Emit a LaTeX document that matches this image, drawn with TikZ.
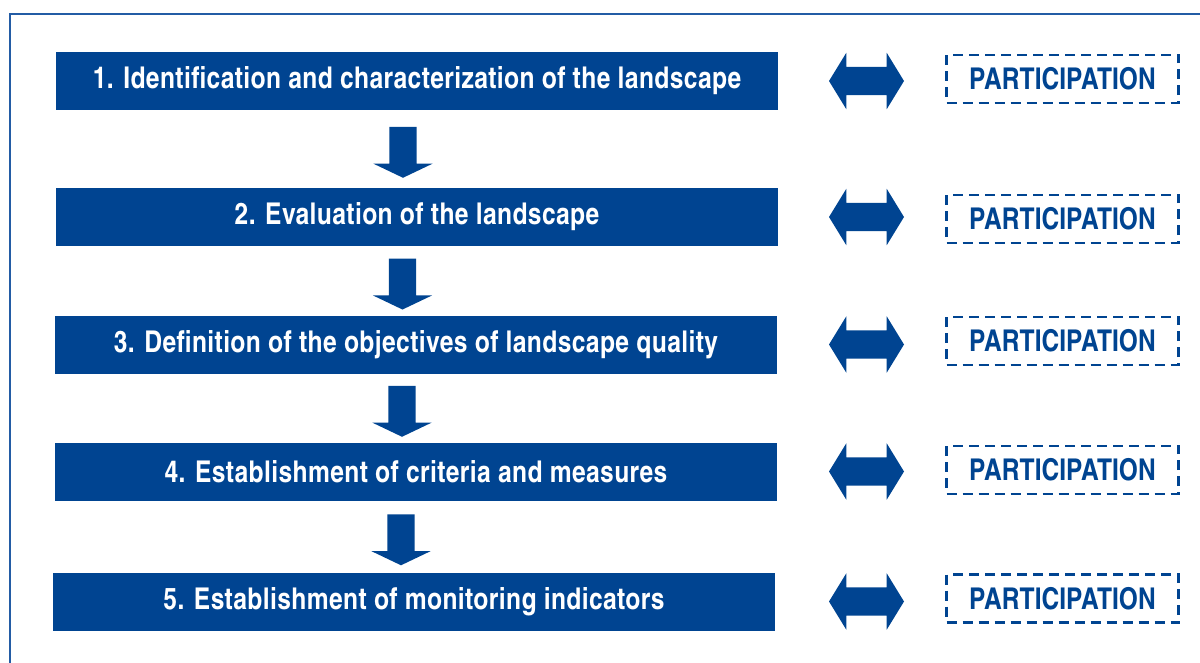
\documentclass[tikz,border=0pt]{standalone}
\usepackage{fontspec}
\setmainfont{texgyreheroscn}[Extension=.otf, UprightFont=*-regular, BoldFont=*-bold]
\usepackage{xcolor}
\usepackage{tikz}
\usetikzlibrary{calc,positioning,shapes.arrows}
\definecolor{landblue}{RGB}{0,68,145}
\definecolor{frameblue}{RGB}{35,92,165}

\begin{document}
\begin{tikzpicture}[x=1pt, y=-1pt,
  stepbox/.style={fill=landblue, minimum width=722pt, minimum height=58pt, inner sep=0pt,
    text=white, font=\fontsize{30}{30}\selectfont\bfseries\addfontfeature{LetterSpace=1.3}},
  partbox/.style={draw=landblue, line width=2.5pt, dash pattern=on 10pt off 6pt,
    minimum width=232pt, minimum height=48pt, inner sep=0pt,
    text=landblue, font=\fontsize{30}{30}\selectfont\bfseries},
  twoway/.style={double arrow, fill=landblue, minimum height=75pt, minimum width=0pt,
    inner xsep=0pt, inner ysep=14pt, double arrow head extend=14pt, double arrow tip angle=117},
  down/.style={single arrow, rotate=-90, fill=landblue, minimum height=51pt, minimum width=0pt,
    inner xsep=0pt, inner ysep=13.5pt, single arrow head extend=16pt, single arrow tip angle=129}
]
\useasboundingbox (0,0) rectangle (1200,662);
\draw[frameblue, line width=2.5pt] (10,14) rectangle (1230,700);

% steps, two-way arrows, participation boxes
\foreach \i/\sx/\sy/\py/\txt in {
  1/417/81/79/{1. Identification and characterization of the landscape},
  2/417/217/219/{2. Evaluation of the landscape},
  3/416/344.5/341/{3. Definition of the objectives of landscape quality},
  4/416/471.5/470/{4. Establishment of criteria and measures},
  5/414/601.5/598.5/{5. Establishment of monitoring indicators}} {
  \node[stepbox] (s\i) at (\sx,\sy) {\txt};
  \node[twoway] (a\i) at (866.5,\sy) {};
  \node[partbox] (p\i) at (1062.5,\py) {PARTICIPATION};
}

% arrows between the steps
\foreach \i/\j in {1/2,2/3,3/4,4/5}
  \node[down] (d\i) at ($(s\i.south)!0.5!(s\j.north)+(-14,0)$) {};
\end{tikzpicture}
\end{document}
